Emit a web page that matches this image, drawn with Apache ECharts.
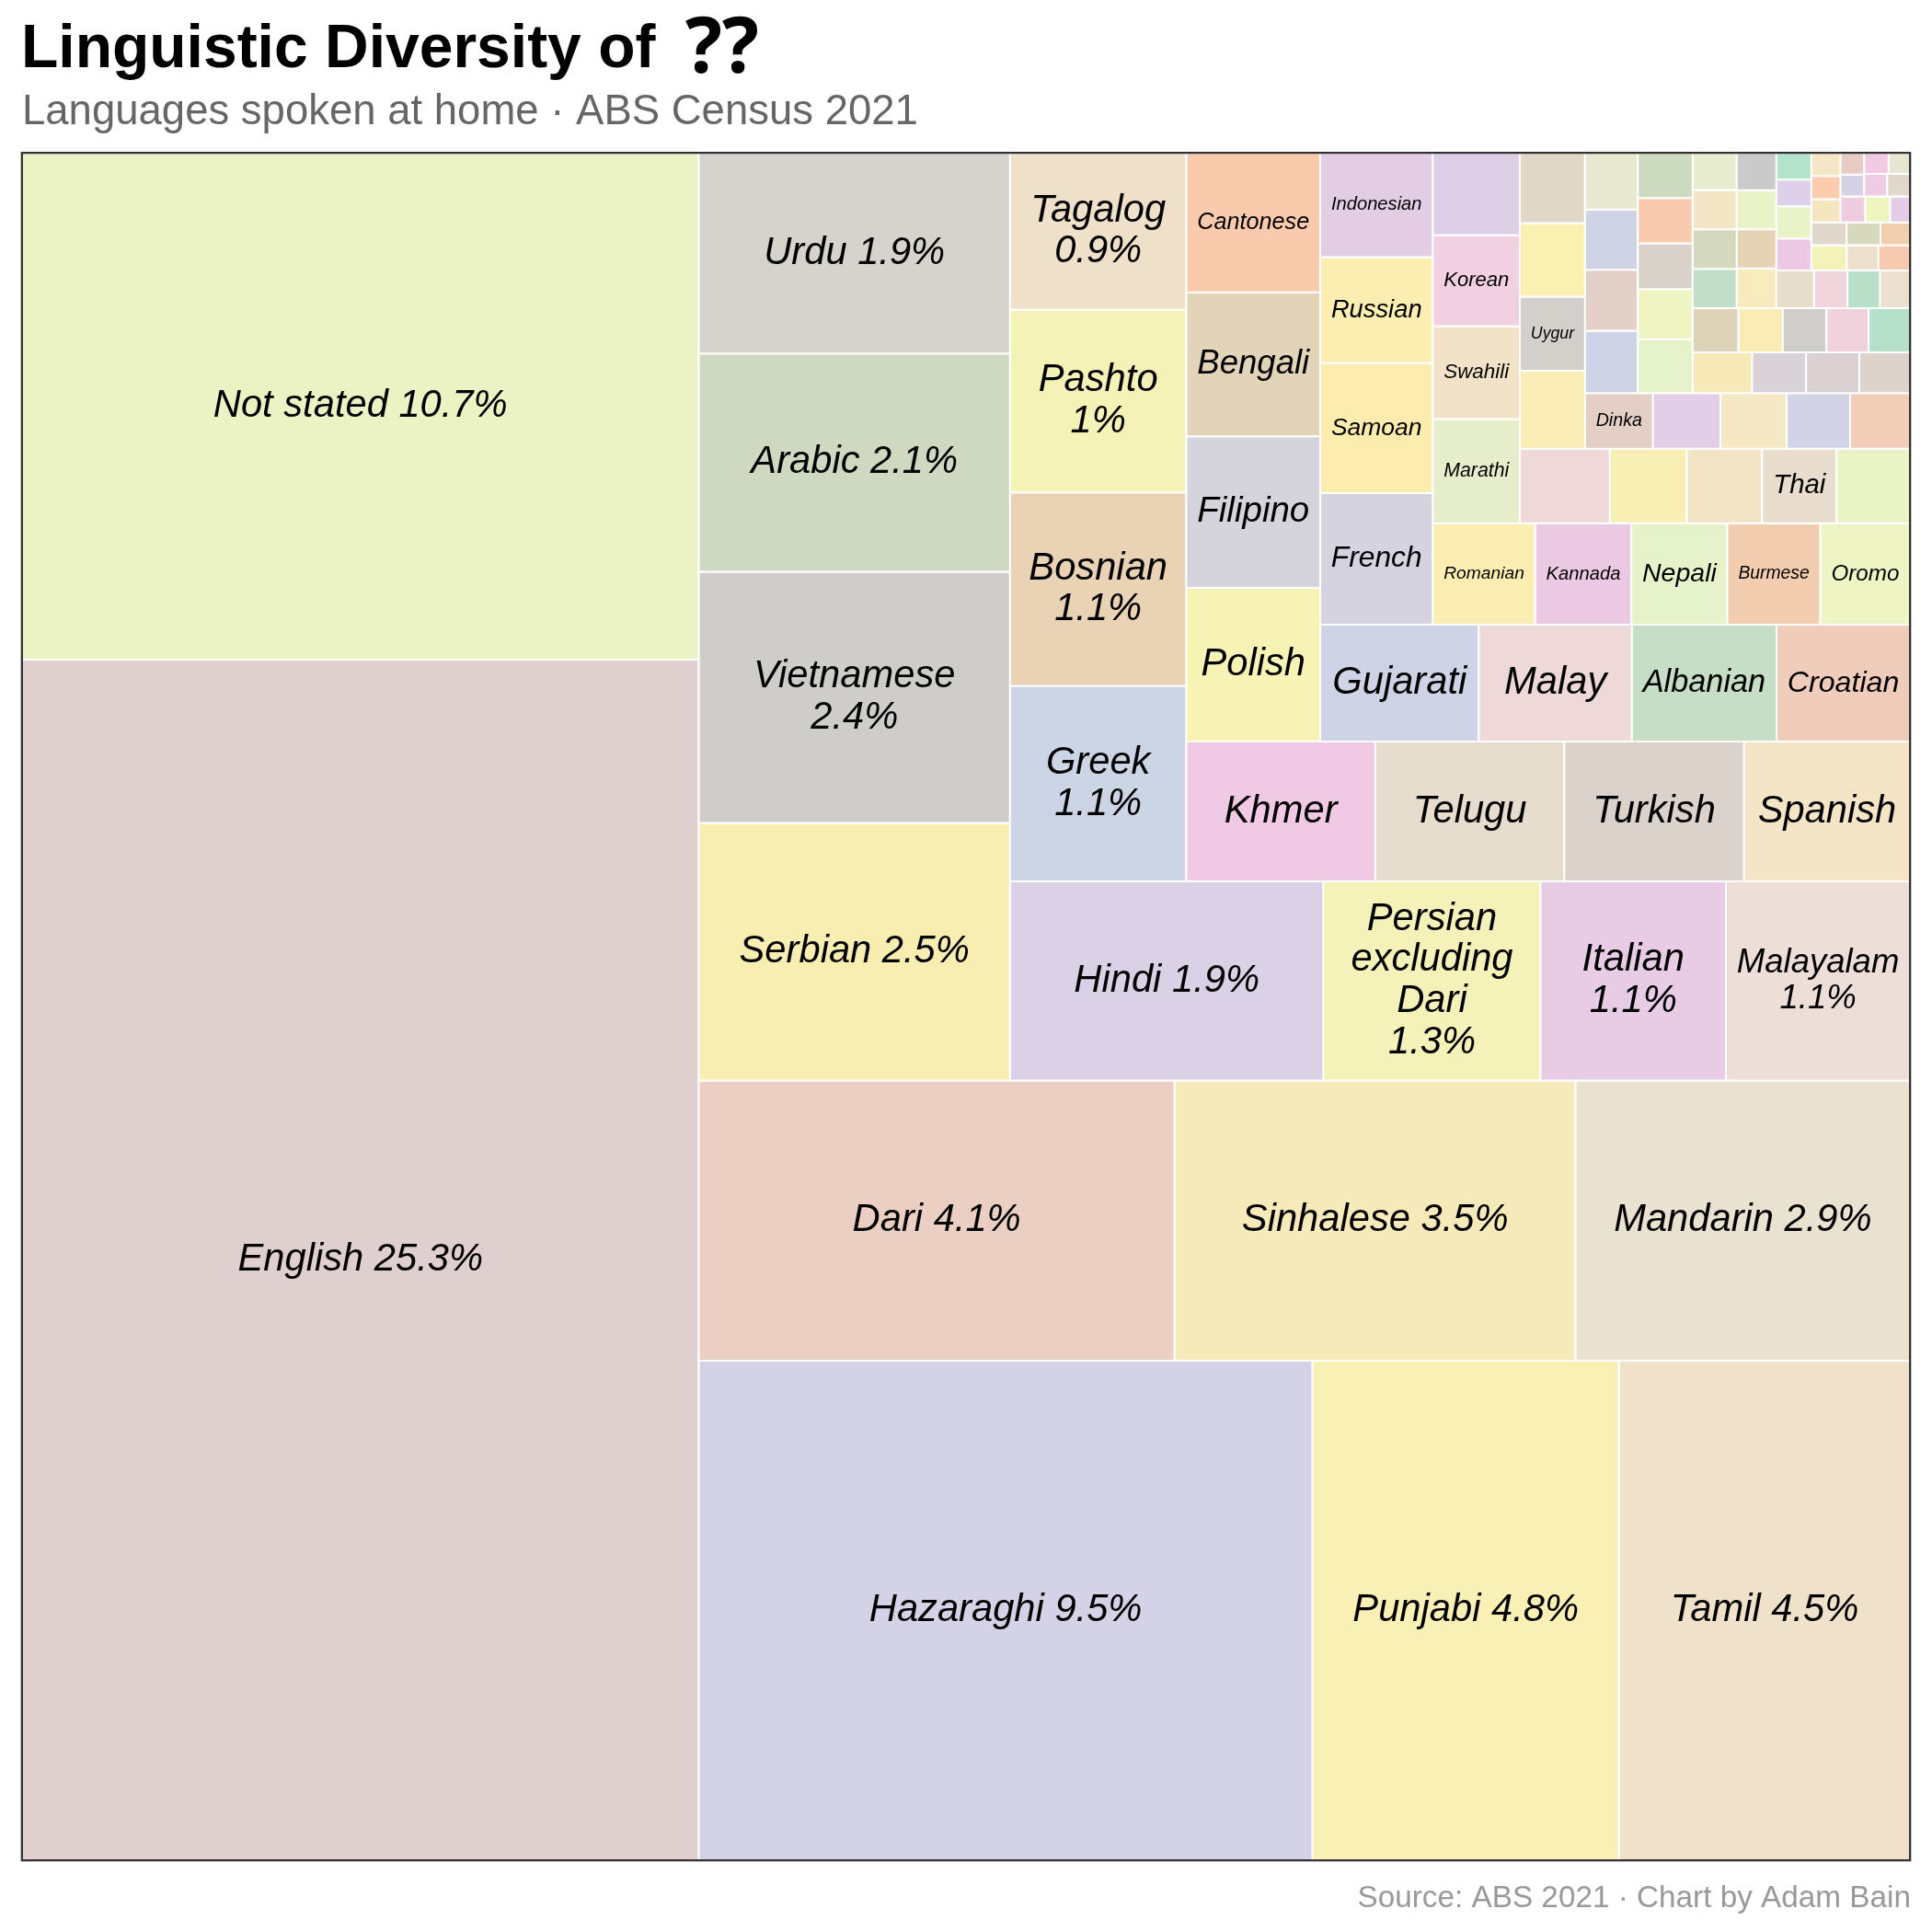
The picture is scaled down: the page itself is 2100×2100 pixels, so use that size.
<!DOCTYPE html>
<html>
<head>
<meta charset="utf-8">
<script src="https://cdn.jsdelivr.net/npm/echarts@6/dist/echarts.min.js"></script>
<style>
  html, body { margin: 0; padding: 0; background: #fff; }
  #chart { width: 2100px; height: 2100px; }
</style>
</head>
<body>
<div id="chart"></div>
<script>
// Languages that carry a label (share of people, %)
const languages = [
    'English', 'Not stated', 'Hazaraghi', 'Punjabi', 'Tamil', 'Dari', 'Sinhalese', 'Mandarin',
    'Serbian', 'Vietnamese', 'Arabic', 'Urdu', 'Hindi', 'Persian excluding Dari', 'Italian',
    'Malayalam', 'Greek', 'Bosnian', 'Pashto', 'Tagalog', 'Khmer', 'Telugu', 'Turkish', 'Spanish',
    'Polish', 'Filipino', 'Bengali', 'Cantonese', 'Gujarati', 'Malay', 'Albanian', 'Croatian',
    'French', 'Samoan', 'Russian', 'Indonesian', 'Romanian', 'Kannada', 'Nepali', 'Burmese',
    'Oromo', 'Marathi', 'Swahili', 'Korean', 'Thai', 'Uygur', 'Dinka'
];
const shares = [
    25.25, 10.66, 9.53, 4.76, 4.52, 4.14, 3.49, 2.91,
    2.49, 2.43, 2.11, 1.94, 1.94, 1.344, 1.148,
    1.14, 1.07, 1.06, 1.00, 0.86, 0.82, 0.82, 0.78, 0.72,
    0.64, 0.63, 0.60, 0.58, 0.576, 0.556, 0.525, 0.485,
    0.46, 0.455, 0.37, 0.365, 0.323, 0.303, 0.303, 0.293,
    0.283, 0.282, 0.251, 0.246, 0.172, 0.150, 0.118
];
const fills = [
    '#DFD0CF', '#EBF2C3', '#D4D2E6', '#F8F0B4', '#F0E1CB', '#EBCFC2', '#F7EABA', '#EAE2D0',
    '#F8EEB2', '#CFCDCA', '#CFD8C0', '#D6D2CC', '#DAD1E6', '#F4F2B8', '#E8CCE6',
    '#EDDFD7', '#CCD5E6', '#EAD2B4', '#F4F2B6', '#EFE0CA', '#F0C9E4', '#E6DDCF', '#DCD2CC', '#F4E5C6',
    '#F6F3B4', '#D5D3DB', '#E2D4B8', '#F9CAAC', '#CED4E6', '#EED9D8', '#C5DEC5', '#F0CDBB',
    '#D4D3DF', '#FCEDAF', '#FCEEB0', '#E3CDE5', '#FCEDB2', '#ECC9E2', '#E6F2C9', '#F3CDAF',
    '#EEF4C3', '#E6EDCB', '#F2E2C8', '#F0D0E1', '#E8DCCC', '#D3D0CB', '#E4CFC7'
];

// Small languages, drawn without a label
const otherLanguages = [
    'Japanese', 'Portuguese', 'German', 'Hakka', 'Tongan', 'Macedonian', 'Hungarian', 'Tigrinya',
    'Fijian', 'Karen', 'Amharic', 'Somali', 'Lao', 'Ukrainian', 'Hebrew', 'Kurdish',
    'Armenian', 'Dutch', 'Hmong', 'Assyrian Neo-Aramaic', 'Maltese', 'Chin Haka', 'Tetum', 'Afrikaans',
    'Kirundi', 'Kinyarwanda', 'Nuer', 'Sindhi', 'Maori', 'Czech', 'Bulgarian', 'Slovak',
    'Mongolian', 'Tibetan', 'Swedish', 'Lithuanian', 'Oriya', 'Konkani', 'Kazakh', 'Uzbek',
    'Finnish', 'Danish', 'Norwegian', 'Rohingya', 'Latvian', 'Shona', 'Yoruba', 'Balochi',
    'Hausa', 'Igbo', 'Lingala', 'Slovenian', 'Estonian', 'Tulu', 'Assamese', 'Turkmen',
    'Tajik', 'Dzongkha', 'Zulu', 'Akan', 'Ewe', 'Cook Islands Maori', 'Irish', 'Welsh'
];
const otherShares = [
    0.223, 0.208, 0.178, 0.174, 0.170, 0.158, 0.149, 0.142,
    0.117, 0.115, 0.110, 0.104, 0.102, 0.100, 0.099, 0.093,
    0.091, 0.086, 0.078, 0.077, 0.075, 0.077, 0.068, 0.067,
    0.061, 0.064, 0.063, 0.060, 0.058, 0.057, 0.054, 0.054,
    0.054, 0.051, 0.049, 0.048, 0.048, 0.046, 0.044, 0.039,
    0.038, 0.035, 0.035, 0.035, 0.028, 0.029, 0.029, 0.024,
    0.025, 0.025, 0.025, 0.021, 0.021, 0.020, 0.021, 0.021,
    0.020, 0.016, 0.016, 0.016, 0.016, 0.016, 0.016, 0.014
];
const otherFills = [
    '#DDD0E6', '#EED9D8', '#F8EFB4', '#F3E4C6', '#EAF3C6', '#FAEDB5', '#FAF0B0', '#E2D8C8',
    '#E2CEE6', '#F5E8C4', '#D2D4E6', '#F2CDB8', '#CED4E6', '#E3D0C8', '#CED4E4', '#E8E8D0',
    '#E6F2CA', '#EEF4C2', '#D8D2CA', '#F8CBAE', '#F8EAB8', '#CCDAC0', '#D9D2D8', '#DBD1D2',
    '#F9ECB6', '#DDD3CA', '#DCD3B8', '#D0CECB', '#F0D2DC', '#B5DFC8', '#C2DEC8', '#D4D8BE',
    '#F4E6C4', '#E8ECD0', '#F8ECBE', '#E6D2B4', '#E8F4C8', '#CACACA', '#E6DDCD', '#F0D6DC',
    '#B8DFC8', '#EBE0D0', '#ECC8E4', '#E8F4C8', '#F3F2B8', '#DED0E8', '#B4E3CC', '#D8D8BE',
    '#EDE0CC', '#F6CBB0', '#E0D8CC', '#F2CFAE', '#F5E6C0', '#F0CCE0', '#FBCCAE', '#F5E6C6',
    '#EEF4C0', '#E6CDE6', '#D5D2E8', '#E8CCC4', '#F0CCE4', '#E0D8CC', '#F2CAE4', '#E8E6D2'
];

const FONT = '"Liberation Sans", Arial, Helvetica, sans-serif';
const MAX_FS = 41.7;   // label size when it fits
const MIN_FS = 16.7;   // smaller labels are dropped
const PAD = 11.8;      // padding inside each cell
const LINE = 1.07;
const PCT_FROM = 0.85; // labels of the bigger groups also carry the %

let chart = echarts.init(document.getElementById('chart'));

// all groups, biggest first (squarified layout on a unit square, origin bottom left)
let items = [];
languages.forEach((n, i) => items.push({ name: n, share: shares[i], fill: fills[i], labelled: true }));
otherLanguages.forEach((n, i) => items.push({ name: n, share: otherShares[i], fill: otherFills[i], labelled: false }));
items.sort((a, b) => b.share - a.share);

const total = items.reduce((s, d) => s + d.share, 0);

function worst(row, side) {
    let s = 0, mx = 0, mn = Infinity;
    row.forEach(a => { s += a; mx = Math.max(mx, a); mn = Math.min(mn, a); });
    return Math.max(side * side * mx / (s * s), s * s / (side * side * mn));
}

function squarify(areas) {
    let x0 = 0, y0 = 0, x1 = 1, y1 = 1;
    let out = [];
    let i = 0;
    while (i < areas.length) {
        const w = x1 - x0, h = y1 - y0;
        const side = Math.min(w, h);
        let row = [areas[i]];
        let best = worst(row, side);
        let j = i + 1;
        while (j < areas.length) {
            const r = row.concat([areas[j]]);
            const sc = worst(r, side);
            if (sc <= best) { row = r; best = sc; j++; } else break;
        }
        const rs = row.reduce((a, b) => a + b, 0);
        if (w >= h) {
            const t = rs / h;
            let y = y0;
            row.forEach(a => { const hh = a / t; out.push([x0, y, x0 + t, y + hh]); y += hh; });
            x0 += t;
        } else {
            const t = rs / w;
            let x = x0;
            row.forEach(a => { const ww = a / t; out.push([x, y0, x + ww, y0 + t]); x += ww; });
            y0 += t;
        }
        i = j;
    }
    return out;
}

const rects = squarify(items.map(d => d.share / total));

const pctText = v => v.toFixed(1).replace(/\.0$/, '') + '%';

// text measuring, so labels shrink / wrap inside their cell
const ctx = document.createElement('canvas').getContext('2d');
ctx.font = 'italic 100px ' + FONT;

function fitLabel(words, w, h) {
    const aw = w - 2 * PAD, ah = h - 2 * PAD;
    if (aw <= 0 || ah <= 0) return null;
    let options = [words.join(' ')];
    if (words.length > 1) options.push(words.join('\n'));
    const sizeFor = t => {
        const lines = t.split('\n');
        const lw = Math.max(...lines.map(l => ctx.measureText(l).width / 100));
        return Math.min(MAX_FS, aw / lw, ah / (lines.length * LINE));
    };
    for (const t of options) {
        if (sizeFor(t) >= MAX_FS) return { text: t, fs: MAX_FS };
    }
    let best = null;
    options.forEach(t => {
        const fs = sizeFor(t);
        if (!best || fs > best.fs) best = { text: t, fs: fs };
    });
    return best.fs >= MIN_FS ? best : null;
}

function renderItem(params, api) {
    const d = items[params.dataIndex];
    const p0 = api.coord([api.value(0), api.value(3)]);
    const p1 = api.coord([api.value(2), api.value(1)]);
    const w = p1[0] - p0[0], h = p1[1] - p0[1];
    let children = [{
        type: 'rect',
        shape: { x: p0[0], y: p0[1], width: w, height: h },
        style: { fill: d.fill, stroke: '#fff', lineWidth: 2 }
    }];
    if (d.labelled) {
        let words = d.name.split(' ');
        if (d.share >= PCT_FROM) words.push(pctText(d.share));
        const f = fitLabel(words, w, h);
        if (f) {
            children.push({
                type: 'text',
                x: p0[0] + w / 2,
                y: p0[1] + h / 2,
                style: {
                    text: f.text,
                    fill: '#000',
                    fontSize: f.fs,
                    fontFamily: FONT,
                    fontStyle: 'italic',
                    align: 'center',
                    verticalAlign: 'middle',
                    lineHeight: f.fs * LINE
                }
            });
        }
    }
    return { type: 'group', children: children };
}

const option = {
    backgroundColor: '#ffffff',
    animation: false,
    title: [
        {
            text: 'Linguistic Diversity of {q|??}',
            left: 23,
            top: 15,
            padding: 0,
            textStyle: {
                fontSize: 66, fontWeight: 'bold', color: '#000', fontFamily: FONT, lineHeight: 80,
                rich: {
                    q: {
                        fontSize: 84, fontWeight: 'bold', color: '#000', lineHeight: 80,
                        fontFamily: '"Noto Sans", "DejaVu Sans", sans-serif',
                        padding: [0, 0, 0, 14]
                    }
                }
            }
        },
        {
            text: 'Languages spoken at home · ABS Census 2021',
            left: 24,
            top: 99,
            padding: 0,
            textStyle: { fontSize: 45.5, fontWeight: 'normal', color: '#666', fontFamily: FONT }
        },
        {
            text: 'Source: ABS 2021 · Chart by Adam Bain',
            right: 23,
            top: 2047,
            padding: 0,
            textStyle: { fontSize: 33.3, fontWeight: 'normal', color: '#999', fontFamily: FONT }
        }
    ],
    tooltip: { show: false },
    grid: {
        left: 23.85,
        top: 166.15,
        width: 2052.3,
        height: 1856,
        show: true,
        z: 5,
        backgroundColor: 'rgba(0,0,0,0)',
        borderColor: '#333',
        borderWidth: 2.3
    },
    xAxis: { type: 'value', min: 0, max: 1, show: false },
    yAxis: { type: 'value', min: 0, max: 1, show: false },
    series: [{
        type: 'custom',
        coordinateSystem: 'cartesian2d',
        silent: true,
        renderItem: renderItem,
        encode: { x: [0, 2], y: [1, 3] },
        data: rects
    }]
};

chart.setOption(option);
</script>
</body>
</html>
